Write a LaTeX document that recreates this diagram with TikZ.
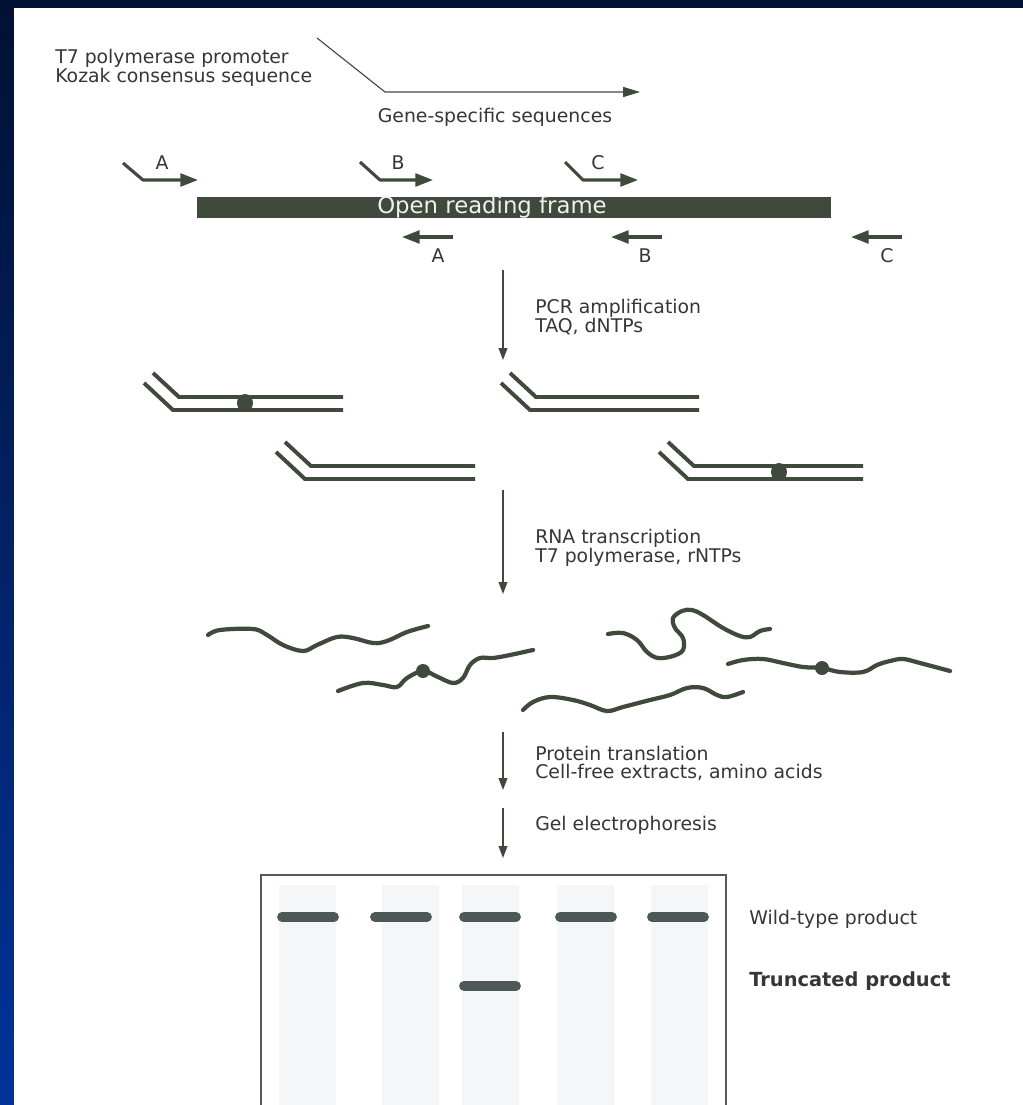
\documentclass[tikz,border=0pt]{standalone}
\usepackage{fontspec}
\setmainfont{DejaVu Sans}
\usetikzlibrary{arrows.meta,positioning,calc}
\definecolor{ink}{HTML}{3F4A3C}
\definecolor{txt}{HTML}{363636}
\definecolor{navy}{HTML}{001133}
\definecolor{slideblue}{HTML}{003399}
\definecolor{lanegray}{HTML}{F5F6F7}
\definecolor{bandgray}{HTML}{4E5856}

\begin{document}
\begin{tikzpicture}[x=0.025cm,y=-0.025cm,
    lbl/.style={font=\fontsize{13.4}{15}\selectfont, text=txt, inner sep=0pt, anchor=west},
    tag/.style={font=\fontsize{13.4}{15}\selectfont, text=txt, inner sep=0pt},
    primer/.style={draw=ink, line width=2.2pt, line join=round, -{Triangle[length=0.44cm,width=0.32cm]}},
    procarrow/.style={draw=ink, line width=1pt, -{Triangle[length=0.3cm,width=0.22cm]}},
    strand/.style={draw=ink, line width=2.8pt},
    rna/.style={draw=ink, line width=3pt, line cap=round, line join=round},
    band/.style={draw=bandgray, line width=7pt, line cap=round}]

    \useasboundingbox (0,0) rectangle (1023,1105);
    % Slide background
    \shade[top color=navy, bottom color=slideblue] (0,0) rectangle (1023,1105);
    \fill[white] (14,8) rectangle (1023,1105);

    % Primer construct
    \node[lbl] (t7) at (55,58) {T7 polymerase promoter};
    \node[lbl] (kozak) at (55,77) {Kozak consensus sequence};
    \coordinate (gtail) at (317,38);
    \coordinate (gbend) at (385,92);
    \coordinate (gtip) at (640,92);
    \draw[ink, line width=0.8pt, -{Triangle[length=0.42cm,width=0.25cm]}] (gtail) -- (gbend) -- (gtip);
    \node[tag] (gene) at (495,117) {Gene-specific sequences};

    % Forward primers
    \draw[primer] (123,163) -- (143,180) -- (198,180);
    \node[tag] (fwdA) at (162,163) {A};
    \draw[primer] (360,162) -- (380,180) -- (433,180);
    \node[tag] (fwdB) at (398,163) {B};
    \draw[primer] (565,162) -- (583,180) -- (638,180);
    \node[tag] (fwdC) at (598,163) {C};

    % Open reading frame
    \node[fill=ink, inner sep=0pt, minimum width=15.85cm, minimum height=0.525cm, anchor=north west] (orf) at (197,197) {};
    \node[font=\fontsize{16.2}{18}\selectfont, text=white!88!gray, inner sep=0pt] (orftext) at (492,207) {Open reading frame};

    % Reverse primers
    \draw[primer] (453,237) -- (402,237);
    \node[tag] (revA) at (438,256) {A};
    \draw[primer] (662,237) -- (611,237);
    \node[tag] (revB) at (645,256) {B};
    \draw[primer] (902,237) -- (851,237);
    \node[tag] (revC) at (887,256) {C};

    % PCR step
    \coordinate (pcrtop) at (503,270);
    \coordinate (pcrbot) at (503,360);
    \draw[procarrow] (pcrtop) -- (pcrbot);
    \node[lbl] (pcr) at (535,308) {PCR amplification};
    \node[lbl] (taq) at (535,327) {TAQ, dNTPs};

    % PCR products
    \foreach \bx/\by/\ex in {179/397/343, 536/397/699, 311/466/475, 694/466/863}{
        \draw[strand] (\bx-26,\by-24) -- (\bx,\by) -- (\ex,\by);
        \draw[strand] (\bx-35,\by-14) -- (\bx-6,\by+13) -- (\ex,\by+13);
    }
    \fill[ink] (245,403) ellipse (8 and 9);
    \fill[ink] (779,472) ellipse (8 and 9);

    % Transcription step
    \coordinate (rnatop) at (503,490);
    \coordinate (rnabot) at (503,594);
    \draw[procarrow] (rnatop) -- (rnabot);
    \node[lbl] (rnatx) at (535,538) {RNA transcription};
    \node[lbl] (t7pol) at (535,557) {T7 polymerase, rNTPs};

    % Transcripts
    \draw[rna] plot[smooth, tension=0.6] coordinates {(208,635) (220,630) (253,629) (267,635) (283,645) (303,651) (317,645) (337,637) (353,638) (373,643) (387,641) (407,632) (428,626)};
    \draw[rna] plot[smooth, tension=0.6] coordinates {(338,691) (363,683) (383,685) (397,687) (407,678) (423,671) (438,677) (453,683) (463,678) (470,665) (480,658) (493,658) (510,655) (533,650)};
    \draw[rna] plot[smooth, tension=0.6] coordinates {(608,634) (623,633) (637,640) (647,652) (658,658) (673,656) (683,650) (683,638) (675,628) (673,618) (682,611) (692,610) (703,615) (723,628) (740,636) (750,637) (760,631) (770,629)};
    \draw[rna] plot[smooth, tension=0.6] coordinates {(728,664) (743,660) (763,659) (783,663) (803,667) (822,668) (840,672) (863,672) (877,665) (890,661) (903,659) (920,663) (950,671)};
    \draw[rna] plot[smooth, tension=0.6] coordinates {(523,710) (533,702) (550,697) (573,700) (590,705) (607,711) (623,707) (650,700) (670,695) (687,688) (703,688) (717,695) (727,697) (743,692)};
    \fill[ink] (423,671) circle (7);
    \fill[ink] (822,668) circle (7);

    % Translation and gel steps
    \coordinate (trtop) at (503,732);
    \coordinate (trbot) at (503,790);
    \draw[procarrow] (trtop) -- (trbot);
    \node[lbl] (prot) at (535,753) {Protein translation};
    \node[lbl] (cellfree) at (535,772) {Cell-free extracts, amino acids};
    \coordinate (geltop) at (503,808);
    \coordinate (gelbot) at (503,858);
    \draw[procarrow] (geltop) -- (gelbot);
    \node[lbl] (gelstep) at (535,825) {Gel electrophoresis};

    % Gel
    \foreach \lx in {279,382,462,557,651}{
        \fill[lanegray] (\lx,885) rectangle ++(57,220);
    }
    \draw[black!65, line width=0.8pt] (261,1105) -- (261,875) -- (726,875) -- (726,1105);
    \foreach \bx in {276,369,458,554,646}{
        \draw[band] (\bx+6,917) -- (\bx+58,917);
    }
    \draw[band] (464,986) -- (516,986);
    \node[lbl] (wild) at (749,919) {Wild-type product};
    \node[lbl, font=\fontsize{13.8}{15}\bfseries] (trunc) at (749,981) {Truncated product};
\end{tikzpicture}
\end{document}
